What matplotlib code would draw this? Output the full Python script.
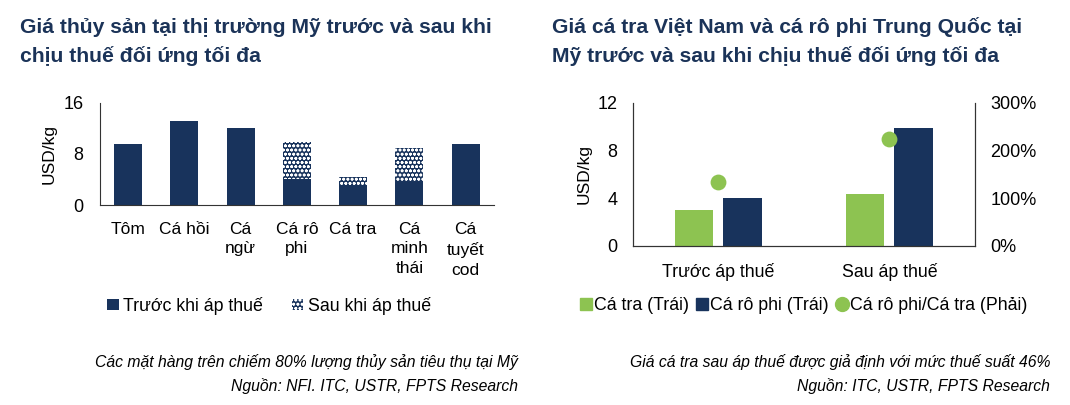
import numpy as np
import matplotlib
matplotlib.use("Agg")
import matplotlib.pyplot as plt
from matplotlib.patches import Patch
from matplotlib.lines import Line2D

plt.rcParams['font.family'] = ['Liberation Sans', 'DejaVu Sans']
plt.rcParams['hatch.linewidth'] = 0.8

NAVY = '#18335c'
GREEN = '#8dc351'
TITLE = '#1b3358'
HATCH = 'oooo'

# left chart data
species = ['Tôm', 'Cá hồi', 'Cá\nngừ', 'Cá rô\nphi', 'Cá tra', 'Cá\nminh\nthái', 'Cá\ntuyết\ncod']
price_before = [9.5, 13.1, 12.0, 4.0, 3.0, 3.6, 9.5]
price_after_extra = [0, 0, 0, 5.9, 1.4, 5.3, 0]

# right chart data
periods = ['Trước áp thuế', 'Sau áp thuế']
pangasius = [3.0, 4.35]
tilapia = [4.0, 9.85]
ratio_pct = [134, 225]

fig = plt.figure(figsize=(10.7, 4.05), dpi=100)

# ---------- left chart
ax1 = fig.add_axes([0.0935, 0.4938, 0.3679, 0.2526])
x = np.arange(len(species))
ax1.bar(x, price_before, width=0.5, color=NAVY, linewidth=0)
ax1.bar(x, price_after_extra, width=0.5, bottom=price_before, color=NAVY,
        edgecolor='white', hatch=HATCH, linewidth=0)
ax1.set_xlim(-0.5, 6.5)
ax1.set_ylim(0, 16)
ax1.set_yticks([0, 8, 16])
ax1.set_xticks(x)
ax1.set_xticklabels(species, linespacing=1.4)
ax1.tick_params(axis='y', length=0, pad=12, labelsize=13)
ax1.tick_params(axis='x', length=0, pad=12, labelsize=12.5)
for s in ['top', 'right']:
    ax1.spines[s].set_visible(False)
for s in ['left', 'bottom']:
    ax1.spines[s].set_color('#333333')
ax1.set_ylabel('USD/kg', fontsize=12.5, labelpad=5)

h1 = [Patch(facecolor=NAVY, linewidth=0),
      Patch(facecolor=NAVY, edgecolor='white', hatch=HATCH, linewidth=0)]
fig.legend(h1, ['Trước khi áp thuế', 'Sau khi áp thuế'], loc='center',
           bbox_to_anchor=(0.2514, 0.245), ncol=2, frameon=False, fontsize=12.8,
           handlelength=0.65, handleheight=0.65, handletextpad=0.25, columnspacing=1.6)

# ---------- right chart
ax2 = fig.add_axes([0.5913, 0.3926, 0.3199, 0.3538])
x2 = np.arange(len(periods))
bw = 0.224
ax2.bar(x2 - 0.141, pangasius, width=bw, color=GREEN, linewidth=0)
ax2.bar(x2 + 0.141, tilapia, width=bw, color=NAVY, linewidth=0)
ax2.set_xlim(-0.5, 1.5)
ax2.set_ylim(0, 12)
ax2.set_yticks([0, 4, 8, 12])
ax2.set_xticks(x2)
ax2.set_xticklabels(periods)
ax2.tick_params(axis='y', length=0, pad=11, labelsize=13)
ax2.tick_params(axis='x', length=0, pad=12, labelsize=12.8)
ax2.spines['top'].set_visible(False)
ax2.set_ylabel('USD/kg', fontsize=12.5, labelpad=4)

ax3 = ax2.twinx()
ax3.scatter(x2, ratio_pct, s=130, color=GREEN, zorder=5, linewidth=0)
ax3.set_ylim(0, 300)
ax3.set_yticks([0, 100, 200, 300])
ax3.set_yticklabels(['0%', '100%', '200%', '300%'])
ax3.tick_params(axis='y', length=0, pad=11, labelsize=13)
ax3.spines['top'].set_visible(False)
for a in (ax2, ax3):
    for s in ['left', 'bottom', 'right']:
        a.spines[s].set_color('#333333')

h2 = [Line2D([], [], marker='s', linestyle='none', color=GREEN, markersize=9),
      Line2D([], [], marker='s', linestyle='none', color=NAVY, markersize=9),
      Line2D([], [], marker='o', linestyle='none', color=GREEN, markersize=10)]
fig.legend(h2, ['Cá tra (Trái)', 'Cá rô phi (Trái)', 'Cá rô phi/Cá tra (Phải)'],
           loc='center', bbox_to_anchor=(0.7514, 0.245), ncol=3, frameon=False,
           fontsize=12.8, handlelength=0.6, handletextpad=0.15, columnspacing=0.45)

# ---------- titles
title_kw = dict(fontsize=15.2, fontweight='bold', color=TITLE, va='baseline')
fig.text(20 / 1070, 1 - 33 / 405, 'Giá thủy sản tại thị trường Mỹ trước và sau khi', **title_kw)
fig.text(20 / 1070, 1 - 62 / 405, 'chịu thuế đối ứng tối đa', **title_kw)
fig.text(552 / 1070, 1 - 33 / 405, 'Giá cá tra Việt Nam và cá rô phi Trung Quốc tại', **title_kw)
fig.text(552 / 1070, 1 - 62 / 405, 'Mỹ trước và sau khi chịu thuế đối ứng tối đa', **title_kw)

# ---------- notes
note_kw = dict(fontsize=11.3, style='italic', ha='right', va='baseline')
fig.text(518 / 1070, 1 - 367 / 405, 'Các mặt hàng trên chiếm 80% lượng thủy sản tiêu thụ tại Mỹ', **note_kw)
fig.text(518 / 1070, 1 - 391 / 405, 'Nguồn: NFI. ITC, USTR, FPTS Research', **note_kw)
fig.text(1050 / 1070, 1 - 367 / 405, 'Giá cá tra sau áp thuế được giả định với mức thuế suất 46%', **note_kw)
fig.text(1050 / 1070, 1 - 391 / 405, 'Nguồn: ITC, USTR, FPTS Research', **note_kw)

fig.savefig('out.png', dpi=100, facecolor='white')
